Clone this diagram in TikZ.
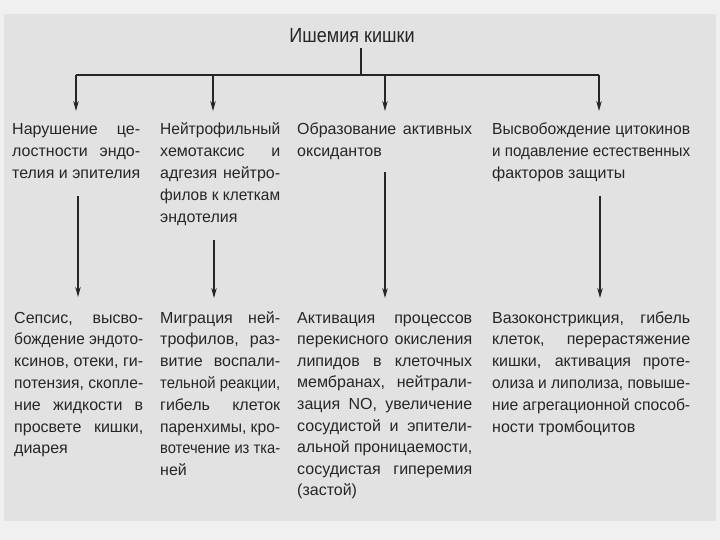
\documentclass[tikz,border=0pt]{standalone}
\usepackage{fontspec}
\setmainfont{Liberation Sans}
\usetikzlibrary{arrows.meta}
\definecolor{paper}{RGB}{226,226,226}
\definecolor{edge}{RGB}{240,240,240}
\definecolor{ink}{RGB}{38,38,38}
\newcommand\J[1]{\setbox0\hbox{#1}\ifdim\wd0>\hsize\hbox to\hsize{\resizebox{\hsize}{\ht0}{#1}}\else\hbox to\hsize{#1}\fi}
\newcommand\Lst[1]{\hbox{#1}}
\newcommand\colbox[3]{\vtop{\hsize=#1\baselineskip=#2\lineskiplimit=-30pt\relax #3}}
\tikzset{
  txt/.style={anchor=base west, inner sep=0pt, text=ink, font=\fontsize{16}{22}\selectfont},
  ttl/.style={anchor=base, inner sep=1pt, text=ink, font=\fontsize{20.5}{24}\selectfont},
  ln/.style={draw=ink, line width=1.2pt},
  arr/.style={ln, -{Stealth[length=10pt,width=5.5pt]}}
}
\begin{document}
\begin{tikzpicture}[x=1pt,y=-1pt]
\useasboundingbox (0,0) rectangle (720,540);
\fill[edge] (0,0) rectangle (720,540);
\fill[paper] (4,14) rectangle (716,521);

\node[ttl] (title) at (352,43) {\scalebox{0.88}[1]{Ишемия кишки}};

% top row
\node[txt] (t1) at (12,135) {\colbox{128pt}{22pt}{\J{Нарушение це-}\J{лостности эндо-}\J{телия и эпителия}}};
\node[txt] (t2) at (160,135) {\colbox{120pt}{22pt}{\J{Нейтрофильный}\J{хемотаксис и}\J{адгезия нейтро-}\J{филов к клеткам}\Lst{эндотелия}}};
\node[txt] (t3) at (297,135) {\colbox{175pt}{22pt}{\J{Образование активных}\Lst{оксидантов}}};
\node[txt] (t4) at (492,135) {\colbox{198pt}{22pt}{\J{Высвобождение цитокинов}\J{и подавление естественных}\Lst{факторов защиты}}};

% bottom row
\node[txt] (b1) at (14,323) {\colbox{129pt}{21.8pt}{\J{Сепсис, высво-}\J{бождение эндото-}\J{ксинов, отеки, ги-}\J{потензия, скопле-}\J{ние жидкости в}\J{просвете кишки,}\Lst{диарея}}};
\node[txt] (b2) at (160,323) {\colbox{120pt}{21.8pt}{\J{Миграция ней-}\J{трофилов, раз-}\J{витие воспали-}\J{тельной реакции,}\J{гибель клеток}\J{паренхимы, кро-}\J{вотечение из тка-}\Lst{ней}}};
\node[txt] (b3) at (297,323) {\colbox{175pt}{21.6pt}{\J{Активация процессов}\J{перекисного окисления}\J{липидов в клеточных}\J{мембранах, нейтрали-}\J{зация NO, увеличение}\J{сосудистой и эпители-}\J{альной проницаемости,}\J{сосудистая гиперемия}\Lst{(застой)}}};
\node[txt] (b4) at (492,323) {\colbox{198pt}{21.8pt}{\J{Вазоконстрикция, гибель}\J{клеток, перерастяжение}\J{кишки, активация проте-}\J{олиза и липолиза, повыше-}\J{ние агрегационной способ-}\Lst{ности тромбоцитов}}};

% connectors
\coordinate (stem) at (361,75);
\coordinate (h1) at (76,75);
\coordinate (h2) at (213,75);
\coordinate (h3) at (385,75);
\coordinate (h4) at (599,75);
\coordinate (a1) at (76,111);
\coordinate (a2) at (213,111);
\coordinate (a3) at (385,111);
\coordinate (a4) at (599,111);
\draw[ln] ([yshift=-4pt]title.south -| stem) -- (stem);
\draw[ln] (h1) -- (h4);
\draw[arr] (h1) -- (a1);
\draw[arr] (h2) -- (a2);
\draw[arr] (h3) -- (a3);
\draw[arr] (h4) -- (a4);

\coordinate (u1) at (78,196);
\coordinate (u2) at (214,240);
\coordinate (u3) at (385,172);
\coordinate (u4) at (600,196);
\coordinate (d1) at (78,297);
\coordinate (d2) at (214,298);
\coordinate (d3) at (385,298);
\coordinate (d4) at (600,298);
\draw[arr] (u1) -- (d1);
\draw[arr] (u2) -- (d2);
\draw[arr] (u3) -- (d3);
\draw[arr] (u4) -- (d4);
\end{tikzpicture}
\end{document}
